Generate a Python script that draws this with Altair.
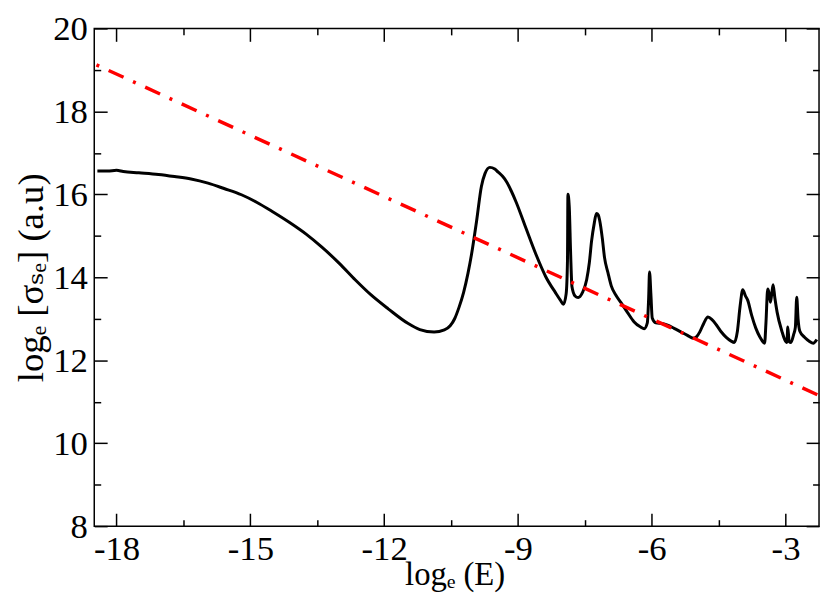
import altair as alt
import pandas as pd

# ---- data ----
x_curve = [-18.43, -18.2, -18.0, -17.85, -17.5, -17.06, -16.7, -16.33, -15.95, -15.59,
           -15.2, -14.86, -14.5, -14.12, -13.75, -13.39, -13.0, -12.65, -12.3, -11.91,
           -11.47, -11.2, -10.88, -10.65, -10.52, -10.42, -10.32, -10.22, -10.12, -10.04,
           -9.93, -9.82, -9.74, -9.63, -9.52, -9.45, -9.35, -9.26, -9.15, -9.04,
           -8.82, -8.60, -8.38, -8.16, -8.05, -7.98, -7.92, -7.89, -7.88, -7.85,
           -7.82, -7.79, -7.72, -7.65, -7.55, -7.46, -7.40, -7.35, -7.29, -7.24,
           -7.20, -7.17, -7.11, -7.06, -6.98, -6.91, -6.80, -6.69, -6.55, -6.40,
           -6.25, -6.17, -6.10, -6.07, -6.05, -6.02, -5.99, -5.91, -5.75, -5.66,
           -5.50, -5.36, -5.20, -5.07, -5.00, -4.92, -4.83, -4.74, -4.65, -4.55,
           -4.44, -4.33, -4.22, -4.15, -4.08, -4.02, -3.96, -3.90, -3.85, -3.76,
           -3.67, -3.57, -3.47, -3.44, -3.40, -3.37, -3.34, -3.31, -3.28, -3.24,
           -3.19, -3.08, -3.02, -2.97, -2.95, -2.92, -2.88, -2.82, -2.78, -2.75,
           -2.72, -2.68, -2.57, -2.47, -2.38, -2.30]
y_curve = [16.56, 16.56, 16.58, 16.55, 16.52, 16.48, 16.43, 16.37, 16.27, 16.14,
           15.99, 15.81, 15.58, 15.32, 15.04, 14.72, 14.33, 13.94, 13.58, 13.24,
           12.89, 12.74, 12.68, 12.73, 12.83, 13.00, 13.28, 13.63, 14.10, 14.56,
           15.34, 16.19, 16.50, 16.65, 16.61, 16.54, 16.44, 16.31, 16.08, 15.81,
           15.18, 14.56, 14.02, 13.63, 13.45, 13.35, 13.60, 14.40, 16.00, 15.70,
           14.60, 13.78, 13.55, 13.51, 13.64, 13.94, 14.35, 14.87, 15.30, 15.54,
           15.50, 15.38, 14.95, 14.48, 14.10, 13.80, 13.56, 13.39, 13.16, 12.93,
           12.80, 12.76, 12.90, 13.50, 14.13, 13.60, 13.02, 12.90, 12.88, 12.85,
           12.77, 12.69, 12.60, 12.53, 12.56, 12.69, 12.90, 13.04, 12.98, 12.85,
           12.68, 12.55, 12.46, 12.43, 12.70, 13.30, 13.70, 13.55, 13.45, 13.08,
           12.78, 12.55, 12.41, 12.90, 13.72, 13.62, 13.40, 13.60, 13.82, 13.50,
           13.16, 12.69, 12.50, 12.43, 12.80, 12.45, 12.43, 12.62, 12.80, 13.52,
           13.00, 12.70, 12.55, 12.46, 12.41, 12.50]

x_fit = [-18.45, -2.25]
y_fit = [19.12, 11.15]

x_major = [-18, -15, -12, -9, -6, -3]
x_minor = [-16.5, -13.5, -10.5, -7.5, -4.5]
y_major = [8, 10, 12, 14, 16, 18, 20]
y_minor = [9, 11, 13, 15, 17, 19]
x_domain = [-18.5, -2.25]
y_domain = [8, 20]

x_title = "logₑ (E)"
y_title = "logₑ [σₛₑ] (a.u)"

# ---- layout / style ----
W, H = 731, 502
FONT = "Times New Roman, Liberation Serif, DejaVu Serif, serif"
LABEL_SIZE, X_TITLE_SIZE, Y_TITLE_SIZE = 35, 33, 37
MAJ, MIN = 13, 6.5

curve = pd.DataFrame({"x": x_curve, "y": y_curve, "i": list(range(len(x_curve)))})
fit = pd.DataFrame({"x": x_fit, "y": y_fit, "i": list(range(len(x_fit)))})

xs = alt.Scale(domain=x_domain, nice=False, zero=False)
ys = alt.Scale(domain=y_domain, nice=False, zero=False)


def tick_axis(orient, values, size, offset):
    return alt.Axis(orient=orient, offset=offset, values=values, labels=False,
                    ticks=True, tickSize=size, tickWidth=1.5, tickColor="black",
                    domain=False, grid=False, title="")


main = alt.Chart(curve).mark_line(color="black", strokeWidth=3,
                                  interpolate="monotone").encode(
    x=alt.X("x:Q", scale=xs, axis=alt.Axis(
        orient="bottom", values=x_major, ticks=False, domain=False, grid=False,
        labelExpr="'' + datum.value", labelFont=FONT, labelFontSize=LABEL_SIZE,
        labelColor="black", labelPadding=6,
        title=x_title, titleFont=FONT, titleFontSize=X_TITLE_SIZE,
        titleFontWeight="normal", titleColor="black",
        titleBaseline="alphabetic", titleY=59, titleX=W / 2 - 2)),
    y=alt.Y("y:Q", scale=ys, axis=alt.Axis(
        orient="left", values=y_major, ticks=False, domain=False, grid=False,
        labelExpr="'' + datum.value", labelFont=FONT, labelFontSize=LABEL_SIZE,
        labelColor="black", labelPadding=7,
        title=y_title, titleFont=FONT, titleFontSize=Y_TITLE_SIZE,
        titleFontWeight="normal", titleColor="black",
        titleBaseline="alphabetic", titleX=-52)),
    order="i:Q",
)

red = alt.Chart(fit).mark_line(color="#ff0000", strokeWidth=3.5,
                               strokeDash=[3, 10.5, 16.5, 10.5]).encode(
    x=alt.X("x:Q", scale=xs, axis=tick_axis("top", x_major, MAJ, -H)),
    y=alt.Y("y:Q", scale=ys, axis=tick_axis("right", y_major, MAJ, -W)),
    order="i:Q",
)

t3 = alt.Chart(fit).mark_line(opacity=0).encode(
    x=alt.X("x:Q", scale=xs, axis=tick_axis("bottom", x_major, MAJ, -H)),
    y=alt.Y("y:Q", scale=ys, axis=tick_axis("left", y_major, MAJ, -W)),
)
t4 = alt.Chart(fit).mark_line(opacity=0).encode(
    x=alt.X("x:Q", scale=xs, axis=tick_axis("top", x_minor, MIN, -H)),
    y=alt.Y("y:Q", scale=ys, axis=tick_axis("right", y_minor, MIN, -W)),
)
t5 = alt.Chart(fit).mark_line(opacity=0).encode(
    x=alt.X("x:Q", scale=xs, axis=tick_axis("bottom", x_minor, MIN, -H)),
    y=alt.Y("y:Q", scale=ys, axis=tick_axis("left", y_minor, MIN, -W)),
)

chart = alt.layer(main, red, t3, t4, t5).resolve_axis(
    x="independent", y="independent"
).properties(
    width=W, height=H,
    autosize=alt.AutoSizeParams(type="none"),
    padding={"left": 87, "top": 18, "right": 3, "bottom": 84},
    background="white",
).configure_view(stroke="black", strokeWidth=1.5)

chart.save("out.html", embed_options={"renderer": "svg", "actions": False})
